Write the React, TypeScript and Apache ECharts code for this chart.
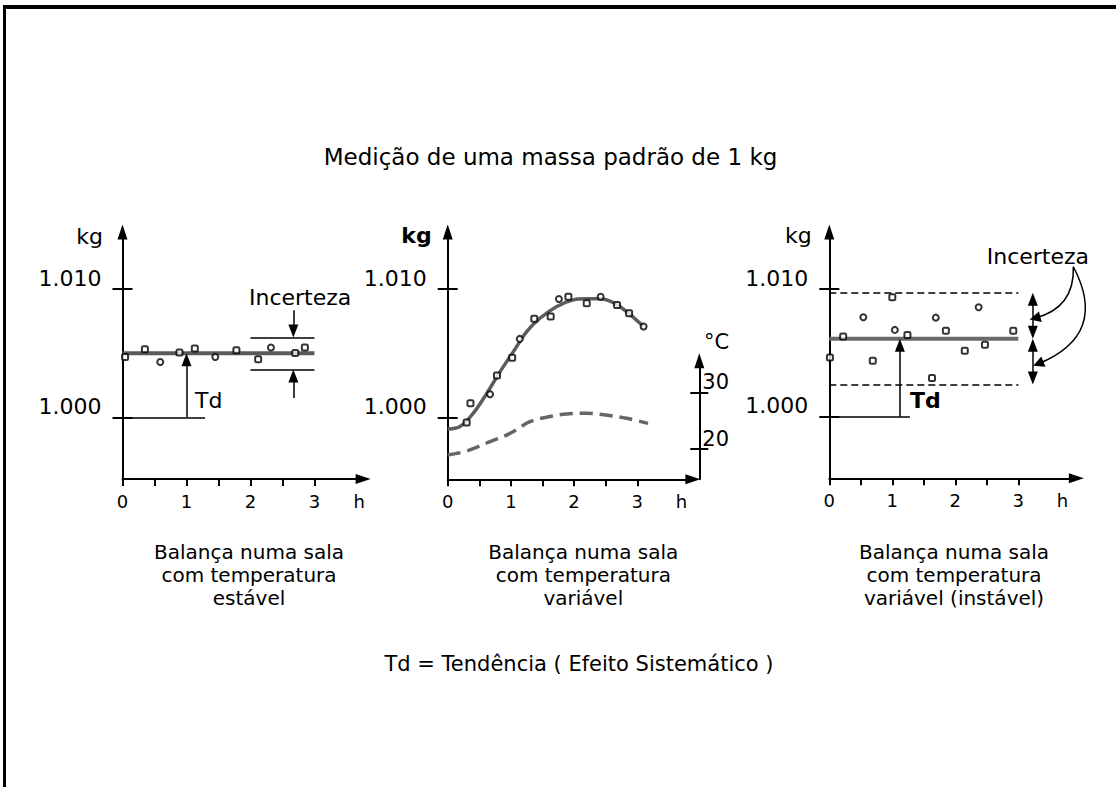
import { useEffect, useRef } from 'react';
import * as echarts from 'echarts';

const FONT = '"DejaVu Sans", "Liberation Sans", sans-serif';

// ---------- shared axis values ----------
const kgTicks = [1.0, 1.01];
const hourTicks = [0, 0.5, 1, 1.5, 2, 2.5, 3];
const hourLabels = [0, 1, 2, 3];
const hourUnitPos = 3.7;
const tempTicks = [20, 30];

// ---------- panel 1: stable temperature ----------
const stableHours = [0.04, 0.35, 0.59, 0.89, 1.13, 1.45, 1.78, 2.12, 2.32, 2.7, 2.85];
const stableKg = [1.00471, 1.00531, 1.00432, 1.00505, 1.00537, 1.00471, 1.00523, 1.00453, 1.00545, 1.00502, 1.00545];
const stableMean = 1.005;
const stableMeanSpan = [0, 3];
const stableTdAt = 1.0;
const stableTdBaseEnd = 1.29;
const stableBandSpan = [2, 3];
const stableBand = [1.00373, 1.00623];
const stableBandArrowAt = 2.67;
const stableBandArrowFrom = [1.0015, 1.00836];

// ---------- panel 2: variable temperature ----------
const varHours = [0.3, 0.36, 0.67, 0.78, 1.02, 1.14, 1.37, 1.63, 1.76, 1.91, 2.2, 2.42, 2.68, 2.87, 3.1];
const varKg = [0.99961, 1.00112, 1.00182, 1.00327, 1.00467, 1.00613, 1.00771, 1.00787, 1.00924, 1.00942, 1.00891, 1.00942, 1.00878, 1.00813, 1.00709];
const fitHours = [0, 0.195, 0.405, 0.62, 0.83, 1.04, 1.25, 1.46, 1.72, 1.99, 2.2, 2.41, 2.62, 2.83, 3.1];
const fitKg = [0.9991, 0.9993, 1.00034, 1.0019, 1.00358, 1.00514, 1.0067, 1.00774, 1.00864, 1.00917, 1.00925, 1.00925, 1.00896, 1.00826, 1.00709];
const tempHours = [0, 0.3, 0.67, 0.99, 1.3, 1.56, 1.88, 2.2, 2.5, 2.83, 3.17];
const tempC = [18.93, 19.64, 21.3, 22.79, 24.85, 25.63, 26.22, 26.34, 26.04, 25.45, 24.56];

// ---------- panel 3: unstable temperature ----------
const unstableHours = [0.01, 0.22, 0.54, 0.69, 1.0, 1.04, 1.24, 1.63, 1.69, 1.85, 2.15, 2.37, 2.47, 2.92];
const unstableKg = [1.00465, 1.00628, 1.00779, 1.00439, 1.00935, 1.0068, 1.00641, 1.00304, 1.00776, 1.00673, 1.00517, 1.00857, 1.00564, 1.00673];
const unstableMean = 1.0061;
const unstableSpan = [0, 3];
const unstableBand = [1.00252, 1.00971];
const unstableTdAt = 1.12;
const unstableTdBaseEnd = 1.28;
const unstableBandArrowAt = 3.23;
const unstableCalloutFrom = [3.873, 1.01174];
const unstableCalloutTo = [
  [3.265, 1.00772],
  [3.317, 1.00415],
];
const unstableCalloutBend = [0.4, 0.55];

// ---------- texts ----------
const titleText = 'Medição de uma massa padrão de 1 kg';
const captions = [
  ['Balança numa sala', 'com temperatura', 'estável'],
  ['Balança numa sala', 'com temperatura', 'variável'],
  ['Balança numa sala', 'com temperatura', 'variável (instável)'],
];
const footnote = 'Td = Tendência ( Efeito Sistemático )';

// ---------- layout ----------
const KG_MIN = 0.99519;
const KG_MAX = 1.01446;
const T_MIN = 14.62;
const T_MAX_PANEL = 58.54;
const T_MAX_AXIS = 35.67;
const GRIDS = [
  { left: 122.5, top: 232, width: 240.6, height: 247 },
  { left: 447.7, top: 232, width: 245.2, height: 247.3 },
  { left: 829.3, top: 232, width: 247, height: 246.3 },
  { left: 699.3, top: 360.8, width: 10, height: 118.5 },
];
const X_MAX = [3.76, 3.88, 3.92];
const ARROW: [number, number] = [10, 13];
const CAPTION_X = [249, 583.3, 954];
const CAPTION_Y = [551.7, 575, 598.3];

const BLACK = '#000';
const axisLineStyle = { color: BLACK, width: 2 };

function xAxisFor(gi: number) {
  return {
    type: 'value',
    gridIndex: gi,
    min: 0,
    max: X_MAX[gi],
    axisLine: { show: true, onZero: false, symbol: ['none', 'triangle'], symbolSize: [10, 15], lineStyle: axisLineStyle },
    axisTick: { show: true, customValues: hourTicks, length: 7, lineStyle: axisLineStyle },
    axisLabel: {
      show: true,
      customValues: [...hourLabels, hourUnitPos],
      formatter: (v: number) => (Math.abs(v - hourUnitPos) < 1e-6 ? 'h' : String(v)),
      fontSize: 18,
      fontFamily: FONT,
      color: BLACK,
      margin: 13,
    },
    splitLine: { show: false },
  };
}

function yMainFor(gi: number) {
  return {
    type: 'value',
    gridIndex: gi,
    min: KG_MIN,
    max: KG_MAX,
    position: 'left',
    axisLine: { show: true, onZero: false, symbol: ['none', 'triangle'], symbolSize: [10, 15], lineStyle: axisLineStyle },
    axisTick: { show: true, customValues: kgTicks, length: 10, lineStyle: axisLineStyle },
    axisLabel: {
      show: true,
      customValues: kgTicks,
      formatter: (v: number) => v.toFixed(3),
      fontSize: 22,
      fontFamily: FONT,
      color: BLACK,
      margin: 21,
      verticalAlign: 'bottom',
    },
    splitLine: { show: false },
  };
}

function yOverlayFor(gi: number, min: number, max: number, ticks: number[], len: number) {
  return {
    type: 'value',
    gridIndex: gi,
    min,
    max,
    position: 'left',
    axisLine: { show: false, onZero: false },
    axisTick: { show: true, inside: true, customValues: ticks, length: len, lineStyle: axisLineStyle },
    axisLabel: { show: false },
    splitLine: { show: false },
  };
}

function kgPerPx(gi: number) {
  return (KG_MAX - KG_MIN) / GRIDS[gi].height;
}

// vertical arrow, shortened so that the triangle tip lands on the target value
function vArrow(gi: number, x: number, from: number, to: number, both = false) {
  const d = (ARROW[1] / 2) * kgPerPx(gi);
  const dir = Math.sign(to - from);
  const a = both ? from + dir * d : from;
  const b = to - dir * d;
  return [
    { coord: [x, a], symbol: both ? 'triangle' : 'none', symbolSize: ARROW },
    { coord: [x, b], symbol: 'triangle', symbolSize: ARROW },
  ];
}

function seg(a: number[], b: number[], lineStyle: any = {}) {
  return [
    { coord: a, symbol: 'none', lineStyle },
    { coord: b, symbol: 'none' },
  ];
}

const markerStyle = { color: '#fff', borderColor: BLACK, borderWidth: 2 };
const markerSymbol = (_v: any, p: any) => (p.dataIndex % 3 === 2 ? 'circle' : 'roundRect');

const markLineBase = {
  silent: true,
  animation: false,
  symbol: ['none', 'none'],
  label: { show: false },
  emphasis: { disabled: true },
  lineStyle: { color: BLACK, width: 1.5, type: 'solid' },
};

function text(t: string, x: number, y: number, o: any = {}) {
  return {
    type: 'text',
    x,
    y,
    silent: true,
    style: {
      text: t,
      fontSize: o.fontSize ?? 22,
      fontFamily: FONT,
      fontWeight: o.fontWeight ?? 'normal',
      fill: BLACK,
      align: o.align ?? 'left',
      verticalAlign: o.verticalAlign ?? 'middle',
    },
  };
}

export default function App() {
  const ref = useRef<HTMLDivElement>(null);

  useEffect(() => {
    document.body.style.margin = '0';
    if (!ref.current) return;
    const chart = echarts.init(ref.current, null, { renderer: 'svg' });

    const series: any[] = [
      // ---- panel 1 ----
      {
        type: 'scatter',
        xAxisIndex: 0,
        yAxisIndex: 0,
        data: stableHours.map((h, i) => [h, stableKg[i]]),
        symbol: markerSymbol,
        symbolSize: 6,
        itemStyle: markerStyle,
        z: 5,
      },
      {
        type: 'line',
        xAxisIndex: 0,
        yAxisIndex: 0,
        data: stableMeanSpan.map((h) => [h, stableMean]),
        symbol: 'none',
        clip: false,
        lineStyle: { color: '#5a5a5a', width: 4 },
        z: 3,
        markLine: {
          ...markLineBase,
          data: [
            seg([0, 1.0], [stableTdBaseEnd, 1.0]),
            vArrow(0, stableTdAt, 1.0, stableMean),
            seg([stableBandSpan[0], stableBand[0]], [stableBandSpan[1], stableBand[0]]),
            seg([stableBandSpan[0], stableBand[1]], [stableBandSpan[1], stableBand[1]]),
            vArrow(0, stableBandArrowAt, stableBandArrowFrom[1], stableBand[1]),
            vArrow(0, stableBandArrowAt, stableBandArrowFrom[0], stableBand[0]),
          ],
        },
      },
      // ---- panel 2 ----
      {
        type: 'scatter',
        xAxisIndex: 1,
        yAxisIndex: 2,
        data: varHours.map((h, i) => [h, varKg[i]]),
        symbol: markerSymbol,
        symbolSize: 6,
        itemStyle: markerStyle,
        z: 5,
      },
      {
        type: 'line',
        xAxisIndex: 1,
        yAxisIndex: 2,
        data: fitHours.map((h, i) => [h, fitKg[i]]),
        smooth: 0.35,
        symbol: 'none',
        clip: false,
        lineStyle: { color: '#5c5c5c', width: 3.5 },
        z: 3,
      },
      {
        type: 'line',
        xAxisIndex: 1,
        yAxisIndex: 4,
        data: tempHours.map((h, i) => [h, tempC[i]]),
        smooth: 0.35,
        symbol: 'none',
        clip: false,
        lineStyle: { color: '#666', width: 3.5, type: [13, 7] },
        z: 3,
      },
      // ---- panel 3 ----
      {
        type: 'scatter',
        xAxisIndex: 2,
        yAxisIndex: 5,
        data: unstableHours.map((h, i) => [h, unstableKg[i]]),
        symbol: markerSymbol,
        symbolSize: 6,
        itemStyle: markerStyle,
        z: 5,
      },
      {
        type: 'line',
        xAxisIndex: 2,
        yAxisIndex: 5,
        data: unstableSpan.map((h) => [h, unstableMean]),
        symbol: 'none',
        clip: false,
        lineStyle: { color: '#6a6a6a', width: 4 },
        z: 3,
        markLine: {
          ...markLineBase,
          data: [
            seg([unstableSpan[0], unstableBand[1]], [unstableSpan[1], unstableBand[1]], { type: [7, 4], width: 1.5 }),
            seg([unstableSpan[0], unstableBand[0]], [unstableSpan[1], unstableBand[0]], { type: [7, 4], width: 1.5 }),
            seg([0, 1.0], [unstableTdBaseEnd, 1.0]),
            vArrow(2, unstableTdAt, 1.0, unstableMean),
            vArrow(2, unstableBandArrowAt, unstableBand[1], unstableMean, true),
            vArrow(2, unstableBandArrowAt, unstableMean, unstableBand[0], true),
          ],
        },
      },
      {
        type: 'lines',
        coordinateSystem: 'cartesian2d',
        xAxisIndex: 2,
        yAxisIndex: 5,
        silent: true,
        clip: false,
        symbol: ['none', 'triangle'],
        symbolSize: 11,
        z: 4,
        data: unstableCalloutTo.map((to, i) => ({
          coords: [unstableCalloutFrom, to],
          lineStyle: { curveness: unstableCalloutBend[i] },
        })),
        lineStyle: { color: BLACK, width: 1.5, opacity: 1 },
      },
    ];

    const graphic: any[] = [
      { type: 'line', silent: true, shape: { x1: 3, y1: 7, x2: 1116, y2: 7 }, style: { stroke: BLACK, lineWidth: 4 } },
      { type: 'line', silent: true, shape: { x1: 4.5, y1: 5, x2: 4.5, y2: 787 }, style: { stroke: BLACK, lineWidth: 3 } },
      text(titleText, 550.5, 157, { align: 'center', fontSize: 23 }),
      text('kg', 103, 236, { align: 'right' }),
      text('kg', 431.7, 235, { align: 'right', fontWeight: 'bold' }),
      text('kg', 811.7, 235, { align: 'right' }),
      text('Td', 195, 400),
      text('Td', 910, 400, { fontWeight: 'bold' }),
      text('Incerteza', 249, 297),
      text('Incerteza', 986.7, 256.7),
      text('°C', 704, 341.7, { fontSize: 21 }),
      ...captions.flatMap((lines, p) =>
        lines.map((line, i) => text(line, CAPTION_X[p], CAPTION_Y[i], { align: 'center', fontSize: 20 }))
      ),
      text(footnote, 579, 664, { align: 'center', fontSize: 21 }),
    ];

    chart.setOption({
      animation: false,
      backgroundColor: '#fff',
      textStyle: { fontFamily: FONT },
      grid: GRIDS.map((g) => ({ ...g, containLabel: false })),
      xAxis: [
        xAxisFor(0),
        xAxisFor(1),
        xAxisFor(2),
        { type: 'value', gridIndex: 3, min: 0, max: 1, show: false },
      ],
      yAxis: [
        yMainFor(0),
        yOverlayFor(0, KG_MIN, KG_MAX, kgTicks, 10),
        yMainFor(1),
        yOverlayFor(1, KG_MIN, KG_MAX, kgTicks, 10),
        { type: 'value', gridIndex: 1, min: T_MIN, max: T_MAX_PANEL, position: 'right', show: false, splitLine: { show: false } },
        yMainFor(2),
        yOverlayFor(2, KG_MIN, KG_MAX, kgTicks, 10),
        {
          type: 'value',
          gridIndex: 3,
          min: T_MIN,
          max: T_MAX_AXIS,
          position: 'left',
          axisLine: { show: true, onZero: false, symbol: ['none', 'triangle'], symbolSize: [10, 15], lineStyle: axisLineStyle },
          axisTick: { show: true, customValues: tempTicks, length: 9, lineStyle: axisLineStyle },
          axisLabel: {
            show: true,
            inside: true,
            customValues: tempTicks,
            fontSize: 21,
            fontFamily: FONT,
            color: BLACK,
            margin: 3,
            verticalAlign: 'bottom',
          },
          splitLine: { show: false },
        },
        yOverlayFor(3, T_MIN, T_MAX_AXIS, tempTicks, 9),
      ],
      series,
      graphic,
    });

    return () => chart.dispose();
  }, []);

  return <div ref={ref} style={{ width: 1116, height: 787 }} />;
}
